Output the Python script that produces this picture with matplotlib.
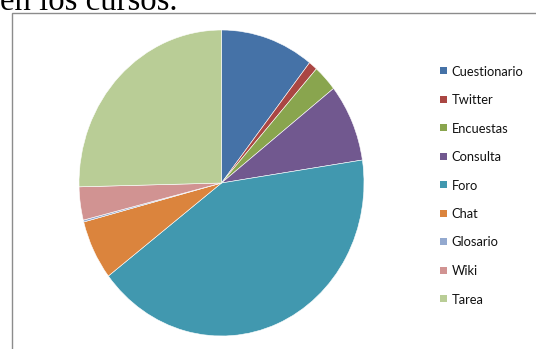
import matplotlib
matplotlib.use("Agg")
import matplotlib.pyplot as plt
from matplotlib.patches import Rectangle

labels = ["Cuestionario", "Twitter", "Encuestas", "Consulta", "Foro", "Chat", "Glosario", "Wiki", "Tarea"]
values = [10.6, 1.0, 2.8, 8.2, 42.0, 6.3, 0.2, 3.5, 25.4]
colors = ["#4572A7", "#AA4643", "#89A54E", "#71588F", "#4198AF", "#DB843D", "#93A9CF", "#D19392", "#B9CD96"]

W, H = 536, 349
fig = plt.figure(figsize=(W / 100, H / 100), dpi=100)

# chart area border
fig.patches.append(Rectangle((12 / W, -0.1), 1.2, (H - 13.5) / H + 0.1, transform=fig.transFigure,
                             fill=False, edgecolor="#8c8c8c", linewidth=1.0))

# partial heading text above the chart
fig.text(0.0, 1 - 9.5 / H, "en los cursos.", family="Liberation Serif", fontsize=23.6,
         va="baseline", ha="left", color="black")

cx, cy, rx, ry = 221.5, 183, 142.5, 153
ax = fig.add_axes([(cx - rx) / W, (H - cy - ry) / H, 2 * rx / W, 2 * ry / H])
ax.pie(values, colors=colors, startangle=90, counterclock=False,
       wedgeprops=dict(edgecolor="white", linewidth=0.4))
ax.set_aspect("auto")
ax.set_xlim(-1, 1)
ax.set_ylim(-1, 1)
ax.axis("off")

# legend
y0, dy = 70.5, 28.5
for i, (lab, col) in enumerate(zip(labels, colors)):
    y = y0 + i * dy
    fig.patches.append(Rectangle((440 / W, 1 - (y + 3.5) / H), 7 / W, 7 / H,
                                 transform=fig.transFigure, facecolor=col, edgecolor="none"))
    fig.text(451.5 / W, 1 - y / H, lab, family="Lato", fontsize=9.3,
             va="center_baseline", ha="left", color="#111111")

fig.savefig("out.png", dpi=100, facecolor="white")
